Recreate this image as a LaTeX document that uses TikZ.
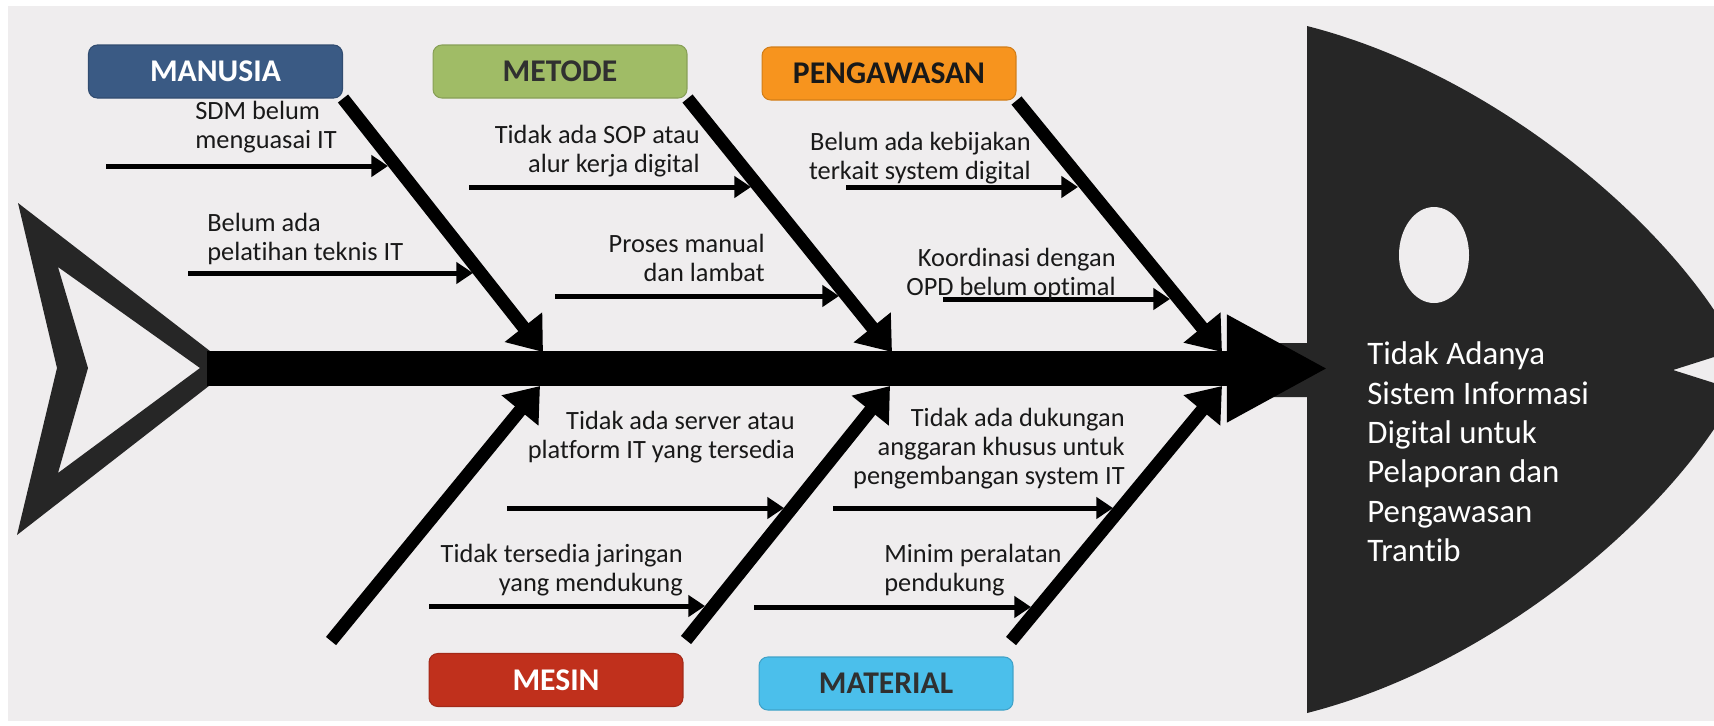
\documentclass[tikz,border=0pt]{standalone}
\usepackage{fontspec}
\setmainfont{Carlito}[Ligatures=NoCommon]
\usetikzlibrary{arrows.meta}

\definecolor{bgcol}{RGB}{239,237,238}
\definecolor{fishcol}{RGB}{38,38,38}
\definecolor{manusiacol}{RGB}{58,90,132}
\definecolor{metodecol}{RGB}{160,188,102}
\definecolor{awascol}{RGB}{247,148,30}
\definecolor{mesincol}{RGB}{192,48,28}
\definecolor{materialcol}{RGB}{75,191,235}
\definecolor{txtcol}{RGB}{25,25,25}

\tikzset{
    cat/.style={rounded corners=5pt, minimum width=5.08cm, minimum height=1.06cm,
        inner sep=0pt, line width=0.6pt, font=\fontsize{18}{20}\selectfont\bfseries},
    bone/.style={line width=7.4pt, -{Triangle[length=18pt,width=26pt]}},
    sub/.style={line width=2.85pt, -{Triangle[length=9.5pt,width=12pt]}},
    cause/.style={inner sep=0pt, text=txtcol, font=\fontsize{15}{16.5}\selectfont},
}

\begin{document}
\begin{tikzpicture}[x=0.02cm, y=-0.02cm]
    \useasboundingbox (0,0) rectangle (1714,725);
    \fill[bgcol] (8,6) rectangle (1714,721);

    % head and tail
    \fill[fishcol] (1307,26) .. controls (1480,70) and (1640,200) .. (1714,310)
        -- (1714,357) -- (1673,370) -- (1714,383) -- (1714,429)
        .. controls (1640,539) and (1480,669) .. (1307,713)
        -- (1307,397) -- (1250,397) -- (1250,343) -- (1307,343) -- cycle;
    \fill[bgcol] (1434,255) ellipse [x radius=35, y radius=48];
    \fill[fishcol, even odd rule] (18,203) -- (232,368) -- (17,535) -- (57,368) -- cycle
        (58,267) -- (200,368) -- (58,473) -- (88,368) -- cycle;

    % spine
    \draw[line width=19.9pt, -{Triangle[length=57.5pt,width=57pt]}]
        (207,368.5) coordinate (tail) -- (1328,368.5) coordinate (mouth);

    \node[cause, text=white, anchor=south west, align=left, font=\fontsize{18.7}{22.4}\selectfont]
        (akibat) at (1367,562) {Tidak Adanya\\Sistem Informasi\\Digital untuk\\Pelaporan dan\\Pengawasan\\Trantib};

    % categories
    \node[cat, fill=manusiacol, draw=manusiacol!85!black, text=white] (manusia) at (215.5,71.5) {MANUSIA};
    \node[cat, fill=metodecol, draw=metodecol!85!black, text=txtcol!90] (metode) at (560,71.5) {METODE};
    \node[cat, fill=awascol, draw=awascol!85!black, text=txtcol] (pengawasan) at (889,73.5) {PENGAWASAN};
    \node[cat, fill=mesincol, draw=mesincol!85!black, text=white] (mesin) at (556,680) {MESIN};
    \node[cat, fill=materialcol, draw=materialcol!85!black, text=txtcol!90] (material) at (886,683.5) {MATERIAL};

    % bones
    \draw[bone] (manusia.south east) -- (543,352) coordinate (u_1);
    \draw[bone] (metode.south east) -- (892,352) coordinate (u_2);
    \draw[bone] (pengawasan.south east) -- (1222,352) coordinate (u_3);
    \draw[bone] (331,641) coordinate (d_1) -- (540,386) coordinate (v_1);
    \draw[bone] (686,640) coordinate (d_2) -- (890,386) coordinate (v_2);
    \draw[bone] (1011,641) coordinate (d_3) -- (1222,386) coordinate (v_3);

    % causes
    \draw[sub] (106,166) coordinate (s_1) -- (388,166) coordinate (t_1);
    \node[cause, anchor=south west, align=left] (c_1) at (195,153.5) {SDM belum\\menguasai IT};
    \draw[sub] (188,273) coordinate (s_2) -- (473,273) coordinate (t_2);
    \node[cause, anchor=south west, align=left] (c_2) at (207,265) {Belum ada\\pelatihan teknis IT};

    \draw[sub] (469,187) coordinate (s_3) -- (751,187) coordinate (t_3);
    \node[cause, anchor=south east, align=right] (c_3) at (700,177.5) {Tidak ada SOP atau\\alur kerja digital};
    \draw[sub] (555,296) coordinate (s_4) -- (839,296) coordinate (t_4);
    \node[cause, anchor=south east, align=right] (c_4) at (765,282) {Proses manual\\dan lambat};

    \draw[sub] (846,187) coordinate (s_5) -- (1078,187) coordinate (t_5);
    \node[cause, anchor=south east, align=right] (c_5) at (1031,184.5) {Belum ada kebijakan\\terkait system digital};
    \draw[sub] (943,299) coordinate (s_6) -- (1170,299) coordinate (t_6);
    \node[cause, anchor=south east, align=right] (c_6) at (1116,300) {Koordinasi dengan\\OPD belum optimal};

    \draw[sub] (507,508) coordinate (s_7) -- (784,508) coordinate (t_7);
    \node[cause, anchor=south east, align=right] (c_7) at (795,463.5) {Tidak ada server atau\\platform IT yang tersedia};
    \draw[sub] (429,606) coordinate (s_8) -- (705,606) coordinate (t_8);
    \node[cause, anchor=south east, align=right] (c_8) at (683,596) {Tidak tersedia jaringan\\yang mendukung};

    \draw[sub] (833,508) coordinate (s_9) -- (1113,508) coordinate (t_9);
    \node[cause, anchor=south east, align=right] (c_9) at (1125,489.5) {Tidak ada dukungan\\anggaran khusus untuk\\pengembangan system IT};
    \draw[sub] (754,607) coordinate (s_10) -- (1031,607) coordinate (t_10);
    \node[cause, anchor=south west, align=left] (c_10) at (884,596) {Minim peralatan\\pendukung};
\end{tikzpicture}
\end{document}
